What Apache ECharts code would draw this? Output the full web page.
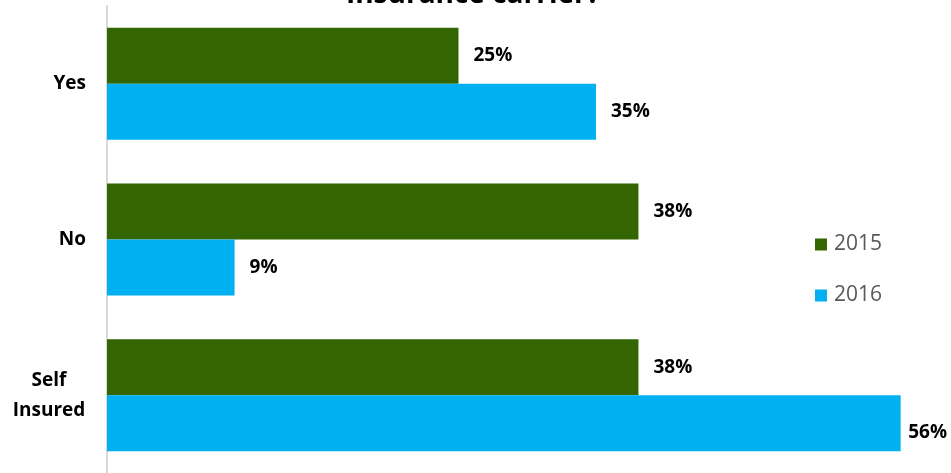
<!DOCTYPE html>
<html>
<head>
<meta charset="utf-8">
<script src="https://cdn.jsdelivr.net/npm/echarts@6/dist/echarts.min.js"></script>
<style>
html, body { margin: 0; padding: 0; background: #fff; }
#myChart { width: 951px; height: 473px; }
</style>
</head>
<body>
<div id="myChart"></div>
<script>
// chart data (bar lengths, labels shown rounded)
var categories = ['Yes', 'No', 'Self\nInsured'];
var seriesNames = ['2015', '2016'];
var values2015 = [24.8, 37.5, 37.5];
var values2016 = [34.5, 9.0, 56.0];

var myChart = echarts.init(document.getElementById('myChart'));
var labelStyle = {
    show: true,
    position: 'right',
    distance: 15,
    formatter: function (p) { return Math.round(p.value) + '%'; },
    color: '#000',
    fontFamily: 'Open Sans',
    fontWeight: 'bold',
    fontSize: 19
};
// keep labels inside the canvas, like the original does for the longest bar
var fitLabel = function (params) {
    var r = params.labelRect;
    var maxX = myChart.getWidth() - 4;
    if (r.x + r.width > maxX) {
        return { x: maxX - r.width };
    }
    return {};
};
var option = {
    animation: false,
    title: {
        text: 'Insurance carrier?',
        left: 468,
        textAlign: 'center',
        top: -24,
        textStyle: {
            fontFamily: 'Open Sans',
            fontWeight: 'bold',
            fontSize: 28,
            color: '#000'
        }
    },
    legend: {
        orient: 'vertical',
        left: 815,
        top: 234,
        padding: 0,
        itemGap: 30,
        itemWidth: 12,
        itemHeight: 12,
        icon: 'rect',
        textStyle: {
            fontFamily: 'Open Sans',
            fontSize: 21,
            color: '#595959',
            padding: [0, 0, 0, 2]
        },
        data: seriesNames
    },
    grid: {
        left: 107,
        top: 6,
        width: 822,
        height: 469
    },
    xAxis: {
        type: 'value',
        min: 0,
        max: 58,
        show: false
    },
    yAxis: {
        type: 'category',
        inverse: true,
        data: categories,
        axisLine: { lineStyle: { color: '#d9d9d9', width: 2 } },
        axisTick: { show: false },
        axisLabel: {
            margin: 21,
            color: '#000',
            fontFamily: 'Open Sans',
            fontWeight: 'bold',
            fontSize: 19,
            lineHeight: 30,
            formatter: function (v) {
                if (v.indexOf('\n') < 0) return v;
                return v.split('\n').map(function (s) { return '{c|' + s + '}'; }).join('\n');
            },
            rich: {
                c: {
                    width: 74,
                    align: 'center',
                    fontFamily: 'Open Sans',
                    fontWeight: 'bold',
                    fontSize: 19,
                    lineHeight: 30,
                    color: '#000'
                }
            }
        }
    },
    series: [
        {
            name: seriesNames[0],
            type: 'bar',
            data: values2015,
            barGap: '0%',
            barCategoryGap: '28%',
            itemStyle: { color: '#336600' },
            label: labelStyle,
            labelLayout: fitLabel
        },
        {
            name: seriesNames[1],
            type: 'bar',
            data: values2016,
            barGap: '0%',
            barCategoryGap: '28%',
            itemStyle: { color: '#00b0f0' },
            label: labelStyle,
            labelLayout: fitLabel
        }
    ]
};
myChart.setOption(option);
</script>
</body>
</html>
